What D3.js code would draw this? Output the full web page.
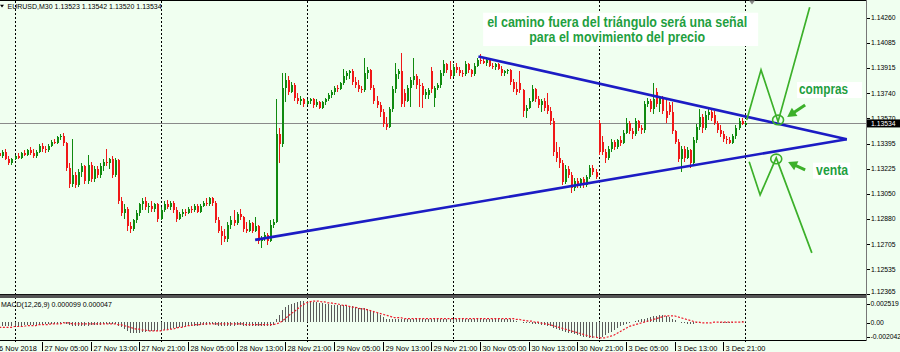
<!DOCTYPE html>
<html>
<head>
<meta charset="utf-8">
<script src="https://cdn.jsdelivr.net/npm/d3@7"></script>
<style>
  html, body { margin: 0; padding: 0; background: #f0fff0; }
  svg { display: block; }
</style>
</head>
<body>
<svg id="chart" width="900" height="352"></svg>
<script>
// EURUSD M30, bars from 26 Nov 2018 21:30 to 4 Dec 00:00 (index 0..245)
const open = [
  1.1333,1.1331,1.1334,1.1329,1.1326,1.1329,1.1331,1.1330,1.1333,1.1332,1.1335,1.1333,1.1331,1.1334,1.1338,1.1336,1.1335,1.1338,1.1341,1.1340,1.1344,
  1.1345,1.1340,1.1323,1.1312,1.1318,1.1311,1.1320,1.1324,1.1314,1.1325,1.1315,1.1322,1.1318,1.1324,1.1327,1.1326,1.1329,1.1318,
  1.1328,1.1300,1.1292,1.1295,1.1283,1.1281,1.1287,1.1292,1.1298,1.1300,1.1296,1.1297,1.1295,1.1298,1.1288,
  1.1294,1.1298,1.1296,1.1299,1.1294,1.1288,1.1291,1.1293,1.1292,1.1295,1.1294,1.1297,1.1293,1.1297,1.1299,1.1298,1.1302,1.1299,
  1.1287,1.1280,1.1276,1.1274,1.1284,1.1287,1.1285,1.1291,1.1289,1.1281,1.1280,1.1285,1.1280,1.1283,1.1273,1.1275,1.1277,1.1273,1.1284,1.1286,
  1.1346,1.1339,1.1378,1.1383,1.1375,1.1380,1.1371,1.1369,1.1370,1.1367,1.1369,1.1370,1.1366,1.1368,1.1364,1.1368,1.1370,1.1373,1.1375,1.1378,1.1377,
  1.1381,1.1386,1.1388,1.1389,1.1382,1.1380,1.1377,1.1376,1.1388,1.1390,1.1378,1.1369,1.1366,1.1361,1.1353,1.1351,1.1363,1.1377,1.1387,
  1.1389,1.1374,1.1369,1.1378,1.1383,1.1386,1.1380,1.1379,1.1373,1.1373,1.1389,1.1371,1.1378,1.1380,1.1388,1.1394,1.1390,1.1386,1.1392,1.1390,1.1388,1.1387,1.1394,1.1390,1.1387,1.1393,1.1397,
  1.1396,1.1395,1.1397,1.1393,1.1392,1.1394,1.1391,1.1388,1.1389,1.1390,1.1382,1.1377,1.1381,1.1376,1.1362,1.1364,1.1369,1.1377,1.1370,1.1366,1.1369,1.1366,1.1362,1.1355,1.1334,1.1330,1.1326,1.1313,1.1322,1.1318,1.1309,1.1314,1.1311,1.1315,1.1311,1.1317,1.1323,1.1320,
  1.1354,1.1341,1.1334,1.1330,1.1336,1.1341,1.1337,1.1342,1.1340,1.1347,1.1354,1.1348,1.1346,1.1355,1.1350,1.1349,1.1367,1.1369,1.1363,1.1375,1.1367,1.1371,1.1362,1.1366,1.1361,1.1348,1.1341,1.1329,1.1336,1.1330,1.1335,1.1326,1.1342,1.1351,1.1358,1.1350,1.1359,1.1361,1.1359,1.1354,1.1349,1.1346,1.1343,1.1342,1.1340,1.1345,1.1350,1.1355,1.13523
];
const high = [
  1.1335,1.1335,1.1336,1.1331,1.1330,1.1332,1.1333,1.1334,1.1335,1.1336,1.1337,1.1336,1.1335,1.1339,1.1340,1.1338,1.1339,1.1342,1.1343,1.1345,1.1346,
  1.1347,1.1341,1.1326,1.1343,1.1320,1.1322,1.1326,1.1325,1.1332,1.1327,1.1324,1.1324,1.1326,1.1329,1.1336,1.1330,1.1331,1.1330,
  1.1329,1.1303,1.1298,1.1296,1.1286,1.1288,1.1294,1.1299,1.1302,1.1303,1.1299,1.1300,1.1299,1.1299,1.1296,
  1.1300,1.1301,1.1300,1.1300,1.1296,1.1293,1.1295,1.1295,1.1296,1.1297,1.1298,1.1298,1.1298,1.1300,1.1302,1.1303,1.1303,1.1300,
  1.1289,1.1283,1.1281,1.1286,1.1290,1.1294,1.1293,1.1295,1.1290,1.1286,1.1287,1.1286,1.1289,1.1284,1.1276,1.1279,1.1278,1.1287,1.1288,1.1370,
  1.1350,1.1388,1.1388,1.1386,1.1382,1.1381,1.1374,1.1372,1.1371,1.1370,1.1371,1.1371,1.1370,1.1369,1.1369,1.1371,1.1374,1.1376,1.1379,1.1380,1.1382,
  1.1391,1.1389,1.1390,1.1391,1.1385,1.1383,1.1379,1.1398,1.1392,1.1391,1.1380,1.1372,1.1368,1.1363,1.1358,1.1365,1.1379,1.1395,1.1391,
  1.1402,1.1377,1.1380,1.1385,1.1398,1.1387,1.1384,1.1381,1.1377,1.1378,1.1392,1.1379,1.1381,1.1390,1.1397,1.1395,1.1396,1.1394,1.1395,1.1392,1.1390,1.1396,1.1395,1.1391,1.1395,1.1398,1.1401,
  1.1399,1.1398,1.1398,1.1395,1.1395,1.1395,1.1393,1.1390,1.1391,1.1391,1.1384,1.1382,1.1389,1.1377,1.1366,1.1371,1.1380,1.1378,1.1372,1.1370,1.1371,1.1374,1.1365,1.1357,1.1341,1.1337,1.1328,1.1325,1.1324,1.1320,1.1316,1.1316,1.1316,1.1317,1.1318,1.1325,1.1325,1.1322,
  1.1356,1.1345,1.1336,1.1338,1.1343,1.1342,1.1343,1.1345,1.1349,1.1357,1.1355,1.1350,1.1357,1.1356,1.1352,1.1369,1.1371,1.1370,1.1381,1.1378,1.1372,1.1372,1.1370,1.1368,1.1368,1.1349,1.1343,1.1338,1.1338,1.1337,1.1336,1.1344,1.1353,1.1363,1.1360,1.1362,1.1364,1.1363,1.1362,1.1355,1.1352,1.1348,1.1345,1.1344,1.1346,1.1352,1.1357,1.1357,1.13542
];
const low = [
  1.1329,1.1330,1.1328,1.1325,1.1325,1.1328,1.1329,1.1329,1.1331,1.1331,1.1332,1.1330,1.1330,1.1333,1.1334,1.1333,1.1334,1.1337,1.1339,1.1339,1.1342,
  1.1338,1.1321,1.1309,1.1310,1.1309,1.1310,1.1317,1.1312,1.1312,1.1313,1.1313,1.1316,1.1316,1.1321,1.1324,1.1322,1.1316,1.1317,
  1.1298,1.1290,1.1288,1.1280,1.1278,1.1280,1.1285,1.1290,1.1294,1.1294,1.1292,1.1293,1.1293,1.1286,1.1287,
  1.1293,1.1295,1.1294,1.1292,1.1286,1.1287,1.1289,1.1290,1.1291,1.1292,1.1293,1.1292,1.1292,1.1296,1.1297,1.1297,1.1297,1.1285,
  1.1278,1.1270,1.1272,1.1272,1.1281,1.1283,1.1284,1.1287,1.1279,1.1278,1.1279,1.1278,1.1279,1.1271,1.1268,1.1273,1.1270,1.1272,1.1282,1.1285,
  1.1326,1.1337,1.1368,1.1373,1.1374,1.1369,1.1367,1.1366,1.1365,1.1366,1.1367,1.1364,1.1365,1.1363,1.1363,1.1366,1.1369,1.1371,1.1373,1.1375,1.1376,
  1.1380,1.1383,1.1384,1.1380,1.1378,1.1375,1.1374,1.1375,1.1384,1.1376,1.1367,1.1364,1.1358,1.1351,1.1349,1.1350,1.1361,1.1374,1.1384,
  1.1365,1.1365,1.1368,1.1365,1.1380,1.1377,1.1365,1.1364,1.1370,1.1370,1.1374,1.1365,1.1376,1.1378,1.1386,1.1388,1.1384,1.1385,1.1388,1.1386,1.1385,1.1386,1.1388,1.1385,1.1386,1.1392,1.1394,
  1.1394,1.1393,1.1392,1.1391,1.1390,1.1390,1.1386,1.1386,1.1387,1.1380,1.1375,1.1373,1.1374,1.1358,1.1357,1.1363,1.1368,1.1368,1.1364,1.1361,1.1362,1.1360,1.1352,1.1331,1.1327,1.1323,1.1311,1.1312,1.1316,1.1306,1.1307,1.1309,1.1309,1.1309,1.1310,1.1315,1.1318,1.1315,
  1.1332,1.1332,1.1326,1.1328,1.1334,1.1335,1.1336,1.1338,1.1339,1.1346,1.1346,1.1343,1.1345,1.1348,1.1346,1.1347,1.1365,1.1361,1.1360,1.1365,1.1361,1.1360,1.1354,1.1359,1.1346,1.1339,1.1327,1.1320,1.1327,1.1329,1.1323,1.1325,1.1340,1.1349,1.1347,1.1349,1.1356,1.1355,1.1352,1.1347,1.1344,1.1341,1.1339,1.1339,1.1339,1.1343,1.1349,1.1352,1.13520
];
const close = [
  1.1331,1.1334,1.1329,1.1326,1.1329,1.1331,1.1330,1.1333,1.1332,1.1335,1.1333,1.1331,1.1334,1.1338,1.1336,1.1335,1.1338,1.1341,1.1340,1.1344,1.1345,
  1.1340,1.1323,1.1312,1.1318,1.1311,1.1320,1.1324,1.1314,1.1325,1.1315,1.1322,1.1318,1.1324,1.1327,1.1326,1.1329,1.1318,1.1328,
  1.1300,1.1292,1.1295,1.1283,1.1281,1.1287,1.1292,1.1298,1.1300,1.1296,1.1297,1.1295,1.1298,1.1288,1.1294,
  1.1298,1.1296,1.1299,1.1294,1.1288,1.1291,1.1293,1.1292,1.1295,1.1294,1.1297,1.1293,1.1297,1.1299,1.1298,1.1302,1.1299,1.1287,
  1.1280,1.1276,1.1274,1.1284,1.1287,1.1285,1.1291,1.1289,1.1281,1.1280,1.1285,1.1280,1.1283,1.1273,1.1275,1.1277,1.1273,1.1284,1.1286,1.1346,
  1.1339,1.1378,1.1383,1.1375,1.1380,1.1371,1.1369,1.1370,1.1367,1.1369,1.1370,1.1366,1.1368,1.1364,1.1368,1.1370,1.1373,1.1375,1.1378,1.1377,1.1381,
  1.1386,1.1388,1.1389,1.1382,1.1380,1.1377,1.1376,1.1388,1.1390,1.1378,1.1369,1.1366,1.1361,1.1353,1.1351,1.1363,1.1377,1.1387,1.1389,
  1.1367,1.1369,1.1378,1.1383,1.1386,1.1380,1.1379,1.1373,1.1375,1.1376,1.1377,1.1378,1.1380,1.1388,1.1394,1.1390,1.1386,1.1392,1.1390,1.1388,1.1387,1.1394,1.1390,1.1387,1.1393,1.1397,1.1396,
  1.1395,1.1397,1.1393,1.1392,1.1394,1.1391,1.1388,1.1389,1.1390,1.1382,1.1377,1.1375,1.1376,1.1362,1.1364,1.1369,1.1377,1.1370,1.1366,1.1369,1.1364,1.1362,1.1355,1.1334,1.1330,1.1326,1.1313,1.1322,1.1318,1.1309,1.1314,1.1311,1.1315,1.1311,1.1317,1.1323,1.1320,1.1317,
  1.1334,1.1334,1.1330,1.1336,1.1341,1.1337,1.1342,1.1340,1.1347,1.1354,1.1348,1.1346,1.1355,1.1350,1.1349,1.1367,1.1369,1.1363,1.1370,1.1367,1.1371,1.1362,1.1357,1.1361,1.1348,1.1341,1.1329,1.1336,1.1330,1.1335,1.1326,1.1342,1.1351,1.1358,1.1350,1.1359,1.1361,1.1357,1.1354,1.1349,1.1346,1.1343,1.1342,1.1340,1.1345,1.1350,1.1355,1.1353,1.13534
];

// MACD(12,26,9): main (histogram) and signal, in units of 0.0001
const macdMain = [
  -4,-4,-4,-5,-5,-4,
  -4,-4,-3,-3,-3,-3,-3,-3,-2,-2,-2,-2,-2,-2,-1,
  -1,-2,-3,-4,-4,-4,-4,-4,-4,-3,-3,-3,-3,-2,-2,-2,-2,-2,
  -4,-6,-8,-10,-12,-13,-13,-12,-11,-11,-10,-10,-10,-10,-10,
  -9,-8,-8,-7,-7,-6,-6,-5,-5,-4,-4,-4,-3,-3,-3,-2,-2,-3,
  -4,-4,-5,-5,-4,-4,-3,-3,-4,-4,-4,-4,-4,-4,-5,-5,-5,-4,-3,
  4,8,14,17,19,21,22,23,24,24,24,
  24,23,23,22,22,21,21,20,20,20,20,19,19,18,18,17,16,16,16,
  15,14,12,10,8,6,4,4,4,4,
  4,3,3,3,3,3,3,3,3,3,3,3,3,3,3,3,4,4,4,4,4,4,4,4,4,4,4,5,
  4,4,4,4,4,4,3,3,3,3,2,
  1,0,-1,-1,-1,-2,-2,-2,-3,-3,-4,-5,-7,-8,-9,
  -10,-11,-12,-13,-14,-15,-16,-17,-17,-18,-18,-18,
  -18,-17,-15,-13,-11,-9,-7,-5,-3,-2,-1,
  0,1,2,3,4,5,6,7,7,8,8,7,6,
  4,2,0,-1,-1,-2,-2,-2,
  -1,-1,0,0,0,0,0,0,-1,-1,-1,-1,-1,0,0,1,0.99
];
const macdSignal = [
  -6,-6,-6,-6,-6,-5,
  -5,-5,-5,-4,-4,-4,-4,-3,-3,-3,-3,-2,-2,-2,-2,-1,-1,
  -1,-2,-2,-2,-2,-2,-2,-2,-2,-2,-2,-2,-2,-2,-2,-2,
  -3,-3,-4,-5,-6,-7,-8,-8,-9,-9,-10,-10,-10,-10,-10,
  -9,-9,-8,-8,-7,-6,-6,-5,-4,-4,-3,-3,-3,-2,-2,-2,-2,-2,
  -2,-2,-2,-2,-2,-2,-2,-2,-2,-3,-3,-3,-3,-3,-3,-3,-3,-3,-3,
  -2,-1,1,4,7,10,12,15,18,20,22,
  23,24,24,24,23,23,22,22,21,21,20,19,19,18,17,17,16,15,15,
  14,13,12,11,10,9,8,7,6,5,
  5,5,4,4,4,4,4,4,4,4,4,4,4,4,4,4,4,4,4,4,4,4,4,4,4,4,4,4,
  4,4,4,4,4,4,4,4,4,4,4,
  3,3,2,2,1,1,0,0,-1,-2,-2,-3,-4,-5,-6,
  -7,-8,-9,-10,-11,-12,-13,-14,-15,-16,-17,-17,
  -18,-18,-18,-17,-16,-15,-13,-11,-9,-7,-5,
  -4,-3,-2,-1,0,1,2,3,4,5,6,7,7,
  7,7,6,5,4,3,2,1,
  0,0,-1,-1,-1,-1,0,0,0,0,0,0,0,0,0,0,0.47
];

// axes
const priceTicks = [1.14260, 1.14085, 1.13915, 1.13740, 1.13570, 1.13395, 1.13225,
                    1.13050, 1.12880, 1.12705, 1.12535, 1.12365];
const timeLabels = ["26 Nov 2018", "27 Nov 05:00", "27 Nov 13:00", "27 Nov 21:00",
  "28 Nov 05:00", "28 Nov 13:00", "28 Nov 21:00", "29 Nov 05:00", "29 Nov 13:00",
  "29 Nov 21:00", "30 Nov 05:00", "30 Nov 13:00", "30 Nov 21:00", "3 Dec 05:00",
  "3 Dec 13:00", "3 Dec 21:00"];
const timeBars = [0, 15, 31, 47, 63, 79, 95, 111, 127, 143, 159, 175, 191, 207, 223, 239];
const daySeparators = [5, 53, 101, 149, 197, 245];   // midnight bars
const bid = 1.13534;
const macdTicks = [0.002519, 0, -0.002042];

// drawn objects, as [bar index, price]
const upperLine = [[157.5, 1.13993], [278.6, 1.13426]];
const lowerLine = [[84.1, 1.12736], [278.6, 1.13426]];
const buyPath = [[245.7, 1.13558], [250.4, 1.13901], [256.0, 1.13546], [266.4, 1.14330]];
const sellPath = [[246.5, 1.13272], [250.1, 1.13044], [255.4, 1.13298], [267.1, 1.12647]];
const buyCircle = [256.0, 1.13558];
const sellCircle = [255.4, 1.13291];
const buyArrow = [[264.9, 1.13661], [259.0, 1.13578]];
const sellArrow = [[264.9, 1.13216], [259.3, 1.13270]];
const noteLines = ["el camino fuera del triángulo  será una señal", "para el movimiento del precio"];

const upColor = "#108a10";
const downColor = "#f01818";
const note = "#1f9f3f";
const drawGreen = "#3cb02a";
const font = "'Liberation Sans', Arial, sans-serif";

const W = 900, plotRight = 866;
const svg = d3.select("#chart");

// scales: bar index -> x, price -> y, macd -> y
const x = d3.scaleLinear().domain([5, 245]).range([14.5, 744.6]);
const y = d3.scaleLinear().domain([1.12365, 1.14260]).range([294, 17.5]);
const yM = d3.scaleLinear().domain([-0.002042, 0.002519]).range([340, 300]);
const cx = i => Math.round(x(i));
const pt = d => [x(d[0]), y(d[1])];

const defs = svg.append("defs");
defs.append("clipPath").attr("id", "clip-main")
  .append("rect").attr("x", 0).attr("y", 1).attr("width", plotRight).attr("height", 293.5);
defs.append("clipPath").attr("id", "clip-macd")
  .append("rect").attr("x", 0).attr("y", 297).attr("width", plotRight).attr("height", 43);

svg.append("rect").attr("width", W).attr("height", 352).attr("fill", "#f0fff0");

// day separators through both panels
svg.append("g").selectAll("line").data(daySeparators).join("line")
  .attr("x1", i => cx(i) + 0.5).attr("x2", i => cx(i) + 0.5)
  .attr("y1", 1).attr("y2", 342)
  .attr("stroke", "#000").attr("stroke-dasharray", "2,2");

const main = svg.append("g").attr("clip-path", "url(#clip-main)");

// bid line
main.append("line")
  .attr("x1", 0).attr("x2", plotRight)
  .attr("y1", Math.round(y(bid)) + 0.5).attr("y2", Math.round(y(bid)) + 0.5)
  .attr("stroke", "#8a8a8a");

// candles
const n = Math.min(open.length, high.length, low.length, close.length);
const idx = d3.range(n);
const colorOf = i => close[i] >= open[i] ? upColor : downColor;
const candles = main.append("g").attr("shape-rendering", "crispEdges");
candles.selectAll("rect.wick").data(idx).join("rect").attr("class", "wick")
  .attr("x", i => cx(i)).attr("width", 1)
  .attr("y", i => y(high[i]))
  .attr("height", i => Math.max(1, y(low[i]) - y(high[i])))
  .attr("fill", colorOf);
candles.selectAll("rect.body").data(idx).join("rect").attr("class", "body")
  .attr("x", i => cx(i)).attr("width", 2)
  .attr("y", i => y(Math.max(open[i], close[i])))
  .attr("height", i => Math.max(1, Math.abs(y(open[i]) - y(close[i]))))
  .attr("fill", colorOf);

// triangle trendlines
[upperLine, lowerLine].forEach(seg => {
  main.append("path").attr("d", d3.line()(seg.map(pt)))
    .attr("stroke", "#1c1cc4").attr("stroke-width", 2.6).attr("fill", "none");
});

// green scenario drawings
[buyPath, sellPath].forEach(p => {
  main.append("path").attr("d", d3.line()(p.map(pt)))
    .attr("stroke", drawGreen).attr("stroke-width", 1.7).attr("fill", "none");
});
[buyCircle, sellCircle].forEach(c => {
  main.append("ellipse").attr("cx", x(c[0])).attr("cy", y(c[1]))
    .attr("rx", 5.5).attr("ry", 4.8)
    .attr("stroke", drawGreen).attr("stroke-width", 1.6).attr("fill", "none");
});
[buyArrow, sellArrow].forEach(a => {
  const [sx, sy] = pt(a[0]);
  const [tx, ty] = pt(a[1]);
  const len = Math.hypot(tx - sx, ty - sy);
  const ux = (tx - sx) / len, uy = (ty - sy) / len;
  const hx = tx - ux * 9, hy = ty - uy * 9;
  main.append("line").attr("x1", sx).attr("y1", sy).attr("x2", hx + ux).attr("y2", hy + uy)
    .attr("stroke", drawGreen).attr("stroke-width", 3);
  main.append("path")
    .attr("d", `M${tx},${ty}L${hx - uy * 5},${hy + ux * 5}L${hx + uy * 5},${hy - ux * 5}Z`)
    .attr("fill", drawGreen);
});

// annotation text boxes
function label(txt, px, py, len, pad) {
  main.append("rect")
    .attr("x", px - pad[0]).attr("y", py - 12.3)
    .attr("width", len + pad[0] + pad[1]).attr("height", 16)
    .attr("fill", "#fff");
  main.append("text").attr("x", px).attr("y", py)
    .attr("font-family", font).attr("font-size", 15).attr("font-weight", "bold")
    .attr("fill", note)
    .attr("textLength", len).attr("lengthAdjust", "spacingAndGlyphs")
    .text(txt);
}
label("compras", x(262.9), y(1.13734), 49, [2, 14]);
label("venta", x(268.5), y(1.13181), 32, [3, 2]);

const noteX = x(203.1);
main.append("rect")
  .attr("x", noteX - 134).attr("y", y(1.14197) - 14)
  .attr("width", 275).attr("height", y(1.14090) - y(1.14197) + 17.7)
  .attr("fill", "#fff");
main.selectAll("text.note").data(noteLines).join("text").attr("class", "note")
  .attr("x", noteX)
  .attr("y", (d, k) => y([1.14197, 1.14090][k]))
  .attr("text-anchor", "middle")
  .attr("font-family", font).attr("font-size", 15).attr("font-weight", "bold")
  .attr("fill", note)
  .attr("textLength", (d, k) => [260, 176][k]).attr("lengthAdjust", "spacingAndGlyphs")
  .text(d => d);

// MACD panel
const macd = svg.append("g").attr("clip-path", "url(#clip-macd)");
const mN = Math.min(macdMain.length, n);
macd.append("g").attr("shape-rendering", "crispEdges")
  .selectAll("line").data(d3.range(mN)).join("line")
  .attr("x1", i => cx(i) + 0.5).attr("x2", i => cx(i) + 0.5)
  .attr("y1", yM(0)).attr("y2", i => yM(macdMain[i] * 1e-4))
  .attr("stroke", "#5a5a5a");
macd.append("path")
  .attr("d", d3.line().x(i => x(i)).y(i => yM(macdSignal[i] * 1e-4))(d3.range(Math.min(macdSignal.length, n))))
  .attr("fill", "none").attr("stroke", "#ee1c2c").attr("stroke-width", 1.2)
  .attr("stroke-dasharray", "2,1.6");

svg.append("text").attr("x", 1).attr("y", 306.5)
  .attr("font-family", font).attr("font-size", 7).attr("fill", "#000")
  .text("MACD(12,26,9) 0.000099 0.000047");

// frame
const frame = svg.append("g").attr("shape-rendering", "crispEdges");
frame.append("line").attr("x1", 0).attr("x2", plotRight).attr("y1", 0.5).attr("y2", 0.5).attr("stroke", "#000");
frame.append("rect").attr("x", 0).attr("y", 294.5).attr("width", plotRight + 1).attr("height", 3).attr("fill", "#555");
frame.append("line").attr("x1", 0).attr("x2", plotRight + 1).attr("y1", 294.5).attr("y2", 294.5).attr("stroke", "#111");
frame.append("line").attr("x1", 0).attr("x2", plotRight + 1).attr("y1", 340.5).attr("y2", 340.5).attr("stroke", "#000");
frame.append("line").attr("x1", plotRight + 0.5).attr("x2", plotRight + 0.5).attr("y1", 0).attr("y2", 341).attr("stroke", "#777");

// price axis
const yAxis = svg.append("g");
yAxis.selectAll("line").data(priceTicks).join("line")
  .attr("x1", plotRight + 1).attr("x2", plotRight + 4)
  .attr("y1", d => Math.round(y(d)) + 0.5).attr("y2", d => Math.round(y(d)) + 0.5)
  .attr("stroke", "#000");
yAxis.selectAll("text").data(priceTicks).join("text")
  .attr("x", 871).attr("y", d => Math.min(y(d), 291.5))
  .attr("dy", "0.35em")
  .attr("font-family", font).attr("font-size", 6.8).attr("fill", "#000")
  .text(d => d.toFixed(5));

// current price tag
svg.append("rect").attr("x", plotRight + 1).attr("y", y(bid) - 4).attr("width", W - plotRight).attr("height", 8).attr("fill", "#000");
svg.append("text").attr("x", 871).attr("y", y(bid)).attr("dy", "0.35em")
  .attr("font-family", font).attr("font-size", 6.8).attr("fill", "#fff")
  .text(bid.toFixed(5));

// macd axis
const mY = d => d > 0 ? yM(d) + 4 : d < 0 ? yM(d) - 3.5 : yM(d) + 0.5;
svg.selectAll("text.mtick").data(macdTicks).join("text").attr("class", "mtick")
  .attr("x", 870.5).attr("y", mY).attr("dy", "0.35em")
  .attr("font-family", font).attr("font-size", 6.8).attr("fill", "#000")
  .text(d => d === 0 ? "0.00" : d.toFixed(6));
svg.selectAll("line.mtick").data(macdTicks).join("line").attr("class", "mtick")
  .attr("x1", plotRight + 1).attr("x2", plotRight + 4)
  .attr("y1", d => Math.round(mY(d)) + 0.5).attr("y2", d => Math.round(mY(d)) + 0.5)
  .attr("stroke", "#000");

// time axis
const xAxis = svg.append("g");
timeLabels.forEach((t, k) => {
  const bx = k === 0 ? -7 : cx(timeBars[k]) - 2.5;
  xAxis.append("line").attr("x1", bx).attr("x2", bx).attr("y1", 342).attr("y2", 350.5)
    .attr("stroke", "#000").attr("shape-rendering", "crispEdges");
  xAxis.append("text").attr("x", bx + 2).attr("y", 350.5)
    .attr("font-family", font).attr("font-size", 7.4).attr("fill", "#000")
    .text(t);
});

// header
svg.append("path").attr("d", "M0,4.8L4,4.8L2,7.4Z").attr("fill", "#000");
svg.append("text").attr("x", 7.5).attr("y", 9)
  .attr("font-family", font).attr("font-size", 7).attr("fill", "#000")
  .text("EURUSD,M30  1.13523 1.13542 1.13520 1.13534");
// chart shift marker
svg.append("path").attr("d", "M749,0.5L755,0.5L752,4.5Z").attr("fill", "#888");
</script>
</body>
</html>
